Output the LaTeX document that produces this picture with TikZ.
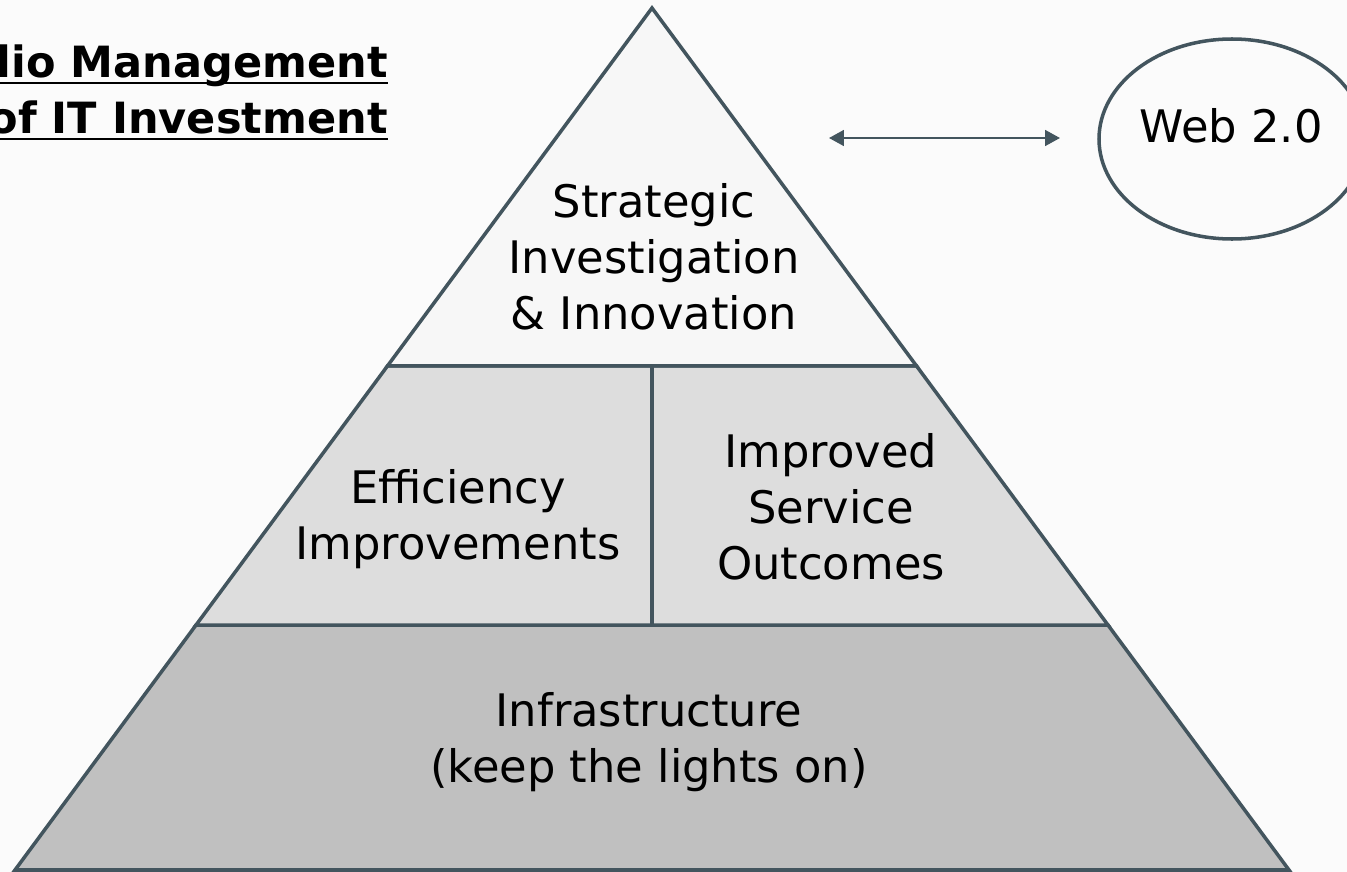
\documentclass[tikz,border=0pt]{standalone}
\usepackage{fontspec}
\setmainfont{DejaVu Sans}
\usetikzlibrary{arrows.meta, positioning, calc, shapes.geometric}

\definecolor{edgecol}{RGB}{67,85,94}
\definecolor{bgcol}{RGB}{251,251,251}
\definecolor{topcol}{RGB}{247,247,247}
\definecolor{midcol}{RGB}{221,221,221}
\definecolor{lowcol}{RGB}{192,192,192}

\begin{document}
\begin{tikzpicture}[x=0.02cm, y=-0.02cm,
    every node/.style={inner sep=0pt, align=center,
        font=\fontsize{25.5}{32}\selectfont},
    layer/.style={draw=edgecol, line width=2pt, line join=miter},
    title/.style={font=\fontsize{24.5}{32}\selectfont\bfseries, anchor=base east},
    web/.style={ellipse, draw=edgecol, line width=2pt, fill=bgcol},
    link/.style={draw=edgecol, line width=1.2pt,
        {Triangle[length=8.5pt,width=9pt]}-{Triangle[length=8.5pt,width=9pt]}}]
    \useasboundingbox (0,0) rectangle (1347,872);
    \clip (0,0) rectangle (1347,872);
    \fill[bgcol] (0,0) rectangle (1347,872);

    % pyramid corners and cut points
    \coordinate (apex) at (652,8);
    \coordinate (bl) at (15,870);
    \coordinate (br) at (1289,870);
    \coordinate (ul) at ($(apex)!0.4153!(bl)$);
    \coordinate (ur) at ($(apex)!0.4153!(br)$);
    \coordinate (ml) at ($(apex)!0.7158!(bl)$);
    \coordinate (mr) at ($(apex)!0.7158!(br)$);
    \coordinate (um) at (652,366);
    \coordinate (mm) at (652,625);

    \filldraw[layer, fill=lowcol] (ml) -- (mr) -- (br) -- (bl) -- cycle;
    \filldraw[layer, fill=midcol] (ul) -- (ur) -- (mr) -- (ml) -- cycle;
    \filldraw[layer, fill=topcol] (apex) -- (ur) -- (ul) -- cycle;
    \draw[layer] (um) -- (mm);

    \node (strat) at (654,257) {Strategic\\Investigation\\\& Innovation};
    \node (effic) at (458,519) {Efficiency\\Improvements};
    \node (serv) at (831,507) {Improved\\Service\\Outcomes};
    \node (infra) at (649,742) {Infrastructure\\(keep the lights on)};

    % Web 2.0 bubble and link
    \node[web, minimum width=266*0.02cm, minimum height=200*0.02cm] (bubble) at (1232,139) {};
    \node (webtxt) at (1231,126) {Web 2.0};
    \coordinate (linkL) at (829,138);
    \coordinate (linkR) at (1060,138);
    \draw[link] (linkL) -- (linkR);

    % heading, cut at the left edge
    \node[title] (head1) at (388,77) {Portfolio Management};
    \node[title] (head2) at (388,133) {of IT Investment};
    \draw[line width=1.6pt] ([yshift=-3.4pt]head1.base west) -- ([yshift=-3.4pt]head1.base east);
    \draw[line width=1.6pt] ([yshift=-3.4pt]head2.base west) -- ([yshift=-3.4pt]head2.base east);
\end{tikzpicture}
\end{document}
